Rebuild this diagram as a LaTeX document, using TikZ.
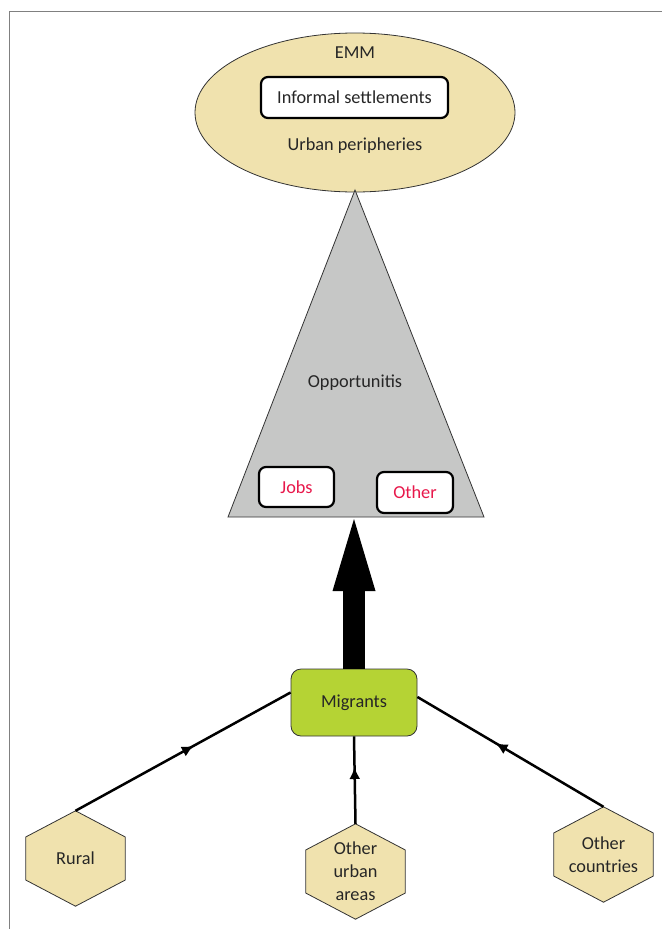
\documentclass[tikz,border=0pt]{standalone}
\usepackage{fontspec}
\setmainfont{Carlito}
\usetikzlibrary{positioning, calc, arrows.meta, shapes.geometric, decorations.markings, backgrounds}
\definecolor{sand}{HTML}{F0E2AE}
\definecolor{lime}{HTML}{B5D334}
\definecolor{trigrey}{HTML}{C6C7C6}
\definecolor{jobred}{HTML}{E8184B}
\tikzset{every node/.style={font=\fontsize{18.3}{23}\selectfont, text=black!85}}
\tikzset{box/.append style={draw=black, fill=white, rounded corners=7pt, line width=2.2pt}}
\tikzset{hexnode/.style={minimum width=99pt, minimum height=95pt, inner sep=0pt, align=center}}
\tikzset{midarrow/.style={postaction={decorate}, decoration={markings, mark=at position #1 with {\arrow{Latex[length=12pt,width=11pt]}}}}}
\tikzstyle{flow}=[line width=2.5pt]
\newcommand{\hexof}[1]{%
  \path[draw=black!80, fill=sand, line width=0.8pt] (#1.north)
    -- ($(#1.north east)!0.274!(#1.south east)$) -- ($(#1.south east)!0.274!(#1.north east)$)
    -- (#1.south)
    -- ($(#1.south west)!0.274!(#1.north west)$) -- ($(#1.north west)!0.274!(#1.south west)$) -- cycle;}

\begin{document}
\begin{tikzpicture}[x=1pt, y=-1pt]
      \useasboundingbox (0,0) rectangle (662,929);
      \draw[black!50, line width=1pt] (9,929) -- (9,11) -- (662,11);

      \node[draw=black!80, fill=sand, ellipse, line width=0.8pt, minimum width=320pt, minimum height=159pt] (emm) at (355,112.5) {};
      \node (emmlabel) at (355,53) {EMM};
      \node[box, minimum width=187pt, minimum height=41pt] (informal) at (354.5,97.5) {Informal settlements};
      \node (urban) at (355,146) {Urban peripheries};

      \draw[draw=black!80, fill=trigrey, line width=0.8pt] (355,190) coordinate (apex)
        -- (484,517) coordinate (baser) -- (228,517) coordinate (basel) -- cycle;
      \node (opp) at (355,383) {Opportunitis};
      \node[box, minimum width=75pt, minimum height=40pt, text=jobred] (jobs) at (296.5,487) {Jobs};
      \node[box, minimum width=76pt, minimum height=41pt, text=jobred] (other) at (415,492.5) {Other};
      \coordinate (tip) at (354,519);

      \node[draw=black!80, fill=lime, rounded corners=10pt, line width=0.8pt, minimum width=126pt, minimum height=67pt] (migrants) at (354,702.5) {Migrants};
      \draw[line width=22pt, -{Triangle[length=72pt, width=43pt, line width=0pt]}] (migrants.north) -- (tip);

      \node[hexnode] (rural) at (75.5,858.5) {Rural};
      \node[hexnode] (urbanareas) at (355.5,871.5) {Other\\urban\\areas};
      \node[hexnode] (countries) at (603.5,854.5) {Other\\countries};
      \begin{pgfonlayer}{background}
        \hexof{rural}
        \hexof{urbanareas}
        \hexof{countries}
      \end{pgfonlayer}

      \draw[flow, midarrow=0.55] (rural.north) -- (migrants.171);
      \draw[flow, midarrow=0.65] (urbanareas.north) -- (migrants.south);
      \draw[flow, midarrow=0.58] (countries.north) -- (migrants.5);
    \end{tikzpicture}
\end{document}
